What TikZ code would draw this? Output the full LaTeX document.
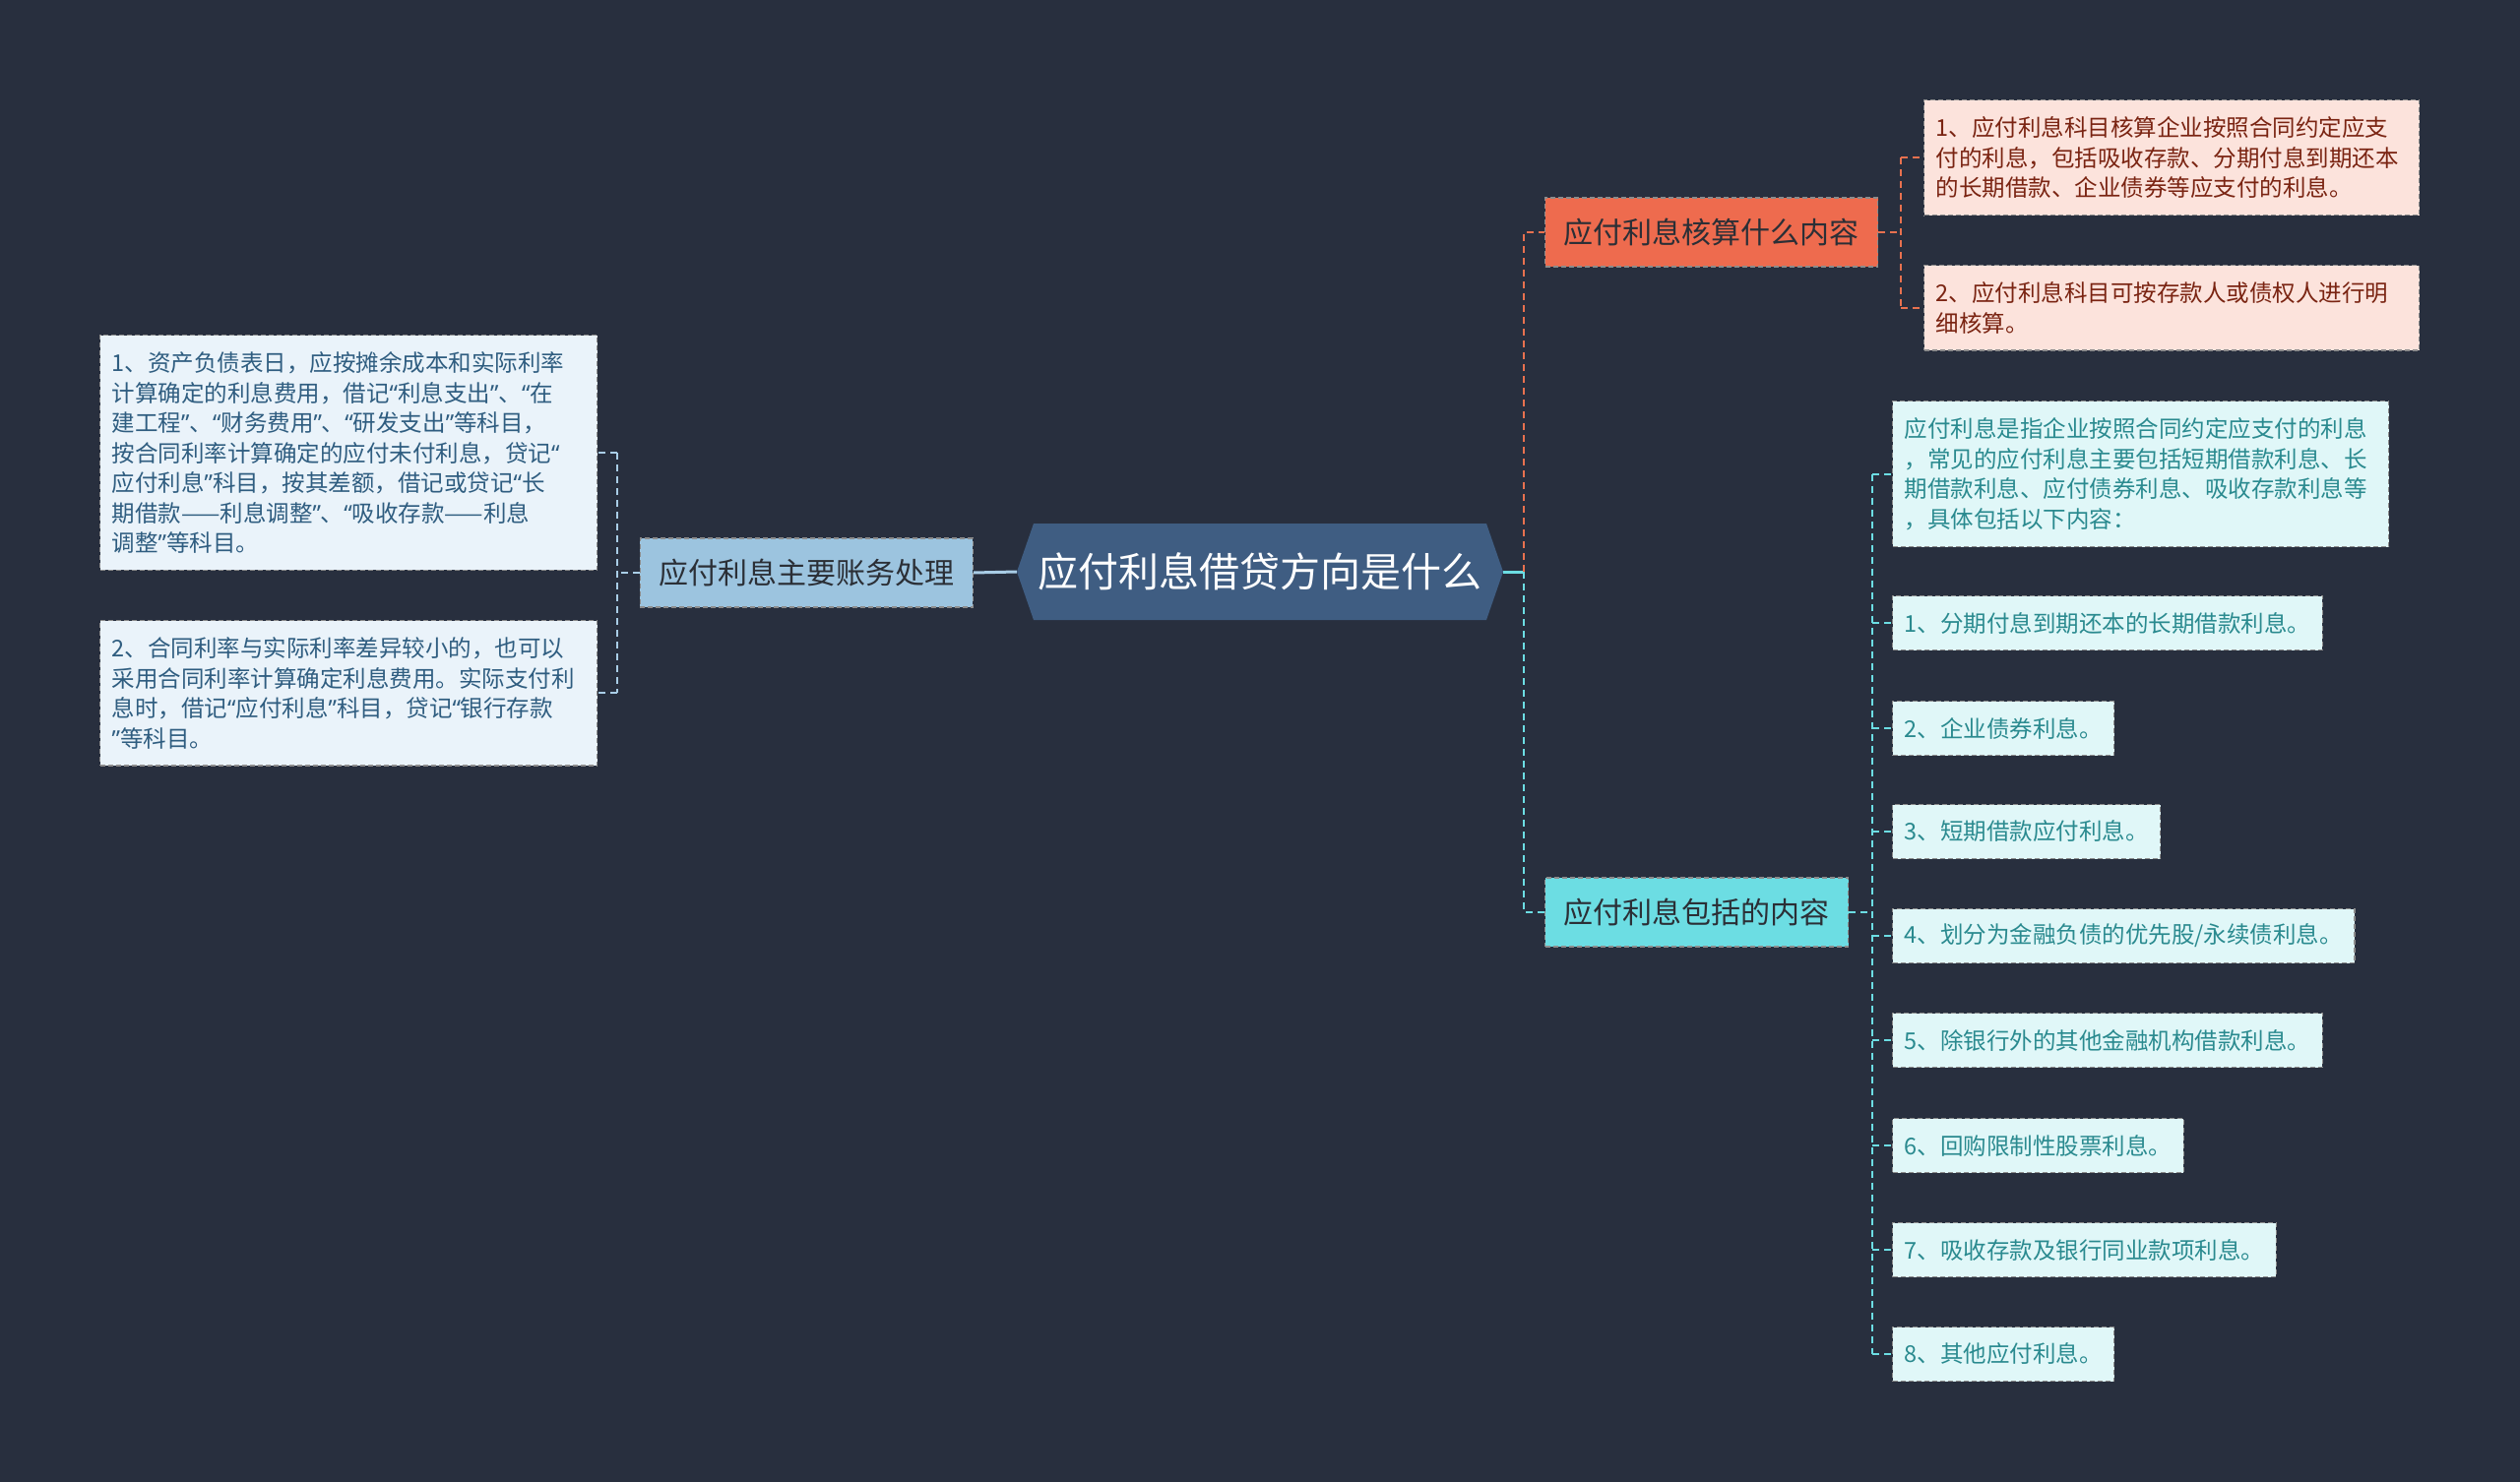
\documentclass[tikz,border=0pt]{standalone}
\usepackage{fontspec}
\setmainfont{Noto Sans CJK SC}
\newfontfamily\myqf{Noto Sans}
\newcommand\myoq{{\myqf “}}
\newcommand\mycq{{\myqf ”}}
\usetikzlibrary{calc}
\definecolor{bg}{HTML}{282F3E}
\definecolor{ctrfill}{HTML}{3F5D82}
\definecolor{lbfill}{HTML}{9CC4DF}
\definecolor{llfill}{HTML}{EAF3FA}
\definecolor{lltext}{HTML}{2F5D80}
\definecolor{lline}{HTML}{A9CDE6}
\definecolor{obfill}{HTML}{EE6B4E}
\definecolor{olfill}{HTML}{FCE3DC}
\definecolor{oltext}{HTML}{7A2412}
\definecolor{oline}{HTML}{E8714F}
\definecolor{cbfill}{HTML}{6CDDE3}
\definecolor{clfill}{HTML}{E0F7F8}
\definecolor{cltext}{HTML}{2A8A8F}
\definecolor{cline}{HTML}{6CDDE3}
\definecolor{btext}{HTML}{2B2F36}
\begin{document}
\begin{tikzpicture}[x=1pt,y=-1pt,
  boxborder/.style={draw=black!45, line width=1.3pt, dash pattern=on 5pt off 3pt},
  branch/.style={boxborder, rectangle, minimum height=70pt, inner xsep=19pt, inner ysep=0pt,
    text=btext, font=\fontsize{30}{36}\selectfont},
  leaf/.style={boxborder, rectangle, inner xsep=12pt, inner ysep=17pt, minimum height=55pt,
    align=left, font=\fontsize{23.5}{30.5}\selectfont},
  single/.style={inner ysep=6pt, minimum height=55pt},
  lleaf/.style={leaf, fill=llfill, text=lltext},
  oleaf/.style={leaf, fill=olfill, text=oltext},
  cleaf/.style={leaf, fill=clfill, text=cltext},
  conn/.style={line width=2pt, dash pattern=on 7pt off 5pt},
]
\fill[bg] (0,0) rectangle (2560,1506);
\useasboundingbox (0,0) rectangle (2560,1506);

% center
\node[rectangle, minimum width=494pt, minimum height=98pt, inner sep=0pt, text=white,
  font=\fontsize{41}{49}\selectfont,
  path picture={\fill[ctrfill] (path picture bounding box.west)
     -- ([xshift=17pt]path picture bounding box.north west)
     -- ([xshift=-17pt]path picture bounding box.north east)
     -- (path picture bounding box.east)
     -- ([xshift=-17pt]path picture bounding box.south east)
     -- ([xshift=17pt]path picture bounding box.south west) -- cycle;}]
  (ctr) at (1280,581) {应付利息借贷方向是什么};

% branches
\node[branch, fill=lbfill, anchor=east] (lb) at (989,582) {应付利息主要账务处理};
\node[branch, fill=obfill, anchor=west] (ob) at (1569,236) {应付利息核算什么内容};
\node[branch, fill=cbfill, anchor=west] (cb) at (1569,927) {应付利息包括的内容};

% left leaves
\node[lleaf, text width=481pt, anchor=north west] (l1) at (101,340) {1、资产负债表日，应按摊余成本和实际利率\\计算确定的利息费用，借记\myoq 利息支出\mycq 、\myoq 在\\建工程\mycq 、\myoq 财务费用\mycq 、\myoq 研发支出\mycq 等科目，\\按合同利率计算确定的应付未付利息，贷记\myoq\\应付利息\mycq 科目，按其差额，借记或贷记\myoq 长\\期借款——利息调整\mycq 、\myoq 吸收存款——利息\\调整\mycq 等科目。};
\node[lleaf, text width=481pt, anchor=north west] (l2) at (101,630) {2、合同利率与实际利率差异较小的，也可以\\采用合同利率计算确定利息费用。实际支付利\\息时，借记\myoq 应付利息\mycq 科目，贷记\myoq 银行存款\\\mycq 等科目。};

% orange leaves
\node[oleaf, text width=479pt, anchor=north west] (o1) at (1954,101) {1、应付利息科目核算企业按照合同约定应支\\付的利息，包括吸收存款、分期付息到期还本\\的长期借款、企业债券等应支付的利息。};
\node[oleaf, text width=479pt, anchor=north west] (o2) at (1954,269) {2、应付利息科目可按存款人或债权人进行明\\细核算。};

% cyan leaves
\node[cleaf, text width=480pt, anchor=north west] (c0) at (1922,407) {应付利息是指企业按照合同约定应支付的利息\\，常见的应付利息主要包括短期借款利息、长\\期借款利息、应付债券利息、吸收存款利息等\\，具体包括以下内容：};
\node[cleaf, single, anchor=west] (c1) at (1922,633) {1、分期付息到期还本的长期借款利息。};
\node[cleaf, single, anchor=west] (c2) at (1922,740) {2、企业债券利息。};
\node[cleaf, single, anchor=west] (c3) at (1922,845) {3、短期借款应付利息。};
\node[cleaf, single, anchor=west] (c4) at (1922,951) {4、划分为金融负债的优先股/永续债利息。};
\node[cleaf, single, anchor=west] (c5) at (1922,1057) {5、除银行外的其他金融机构借款利息。};
\node[cleaf, single, anchor=west] (c6) at (1922,1164) {6、回购限制性股票利息。};
\node[cleaf, single, anchor=west] (c7) at (1922,1270) {7、吸收存款及银行同业款项利息。};
\node[cleaf, single, anchor=west] (c8) at (1922,1376) {8、其他应付利息。};

% buses
\coordinate (lbus) at (627,582);
\coordinate (rbus) at (1548,581);
\coordinate (obus) at (1931,236);
\coordinate (cbus) at (1902,927);

% center connectors
\draw[lline, line width=3pt] (ctr.west) -- (lb.east);
\draw[cline, line width=3pt] (ctr.east) -- (rbus);
\draw[oline, conn] (rbus) -- (rbus |- ob.west) -- (ob.west);
\draw[cline, conn] (rbus) -- (rbus |- cb.west) -- (cb.west);

% left connectors
\draw[lline, conn] (lb.west) -- (lbus);
\draw[lline, conn] (lbus |- l1.east) -- (lbus |- l2.east);
\draw[lline, conn] (lbus |- l1.east) -- (l1.east);
\draw[lline, conn] (lbus |- l2.east) -- (l2.east);

% orange connectors
\draw[oline, conn] (ob.east) -- (obus);
\draw[oline, conn] (obus |- o1.east) -- (obus |- o2.east);
\draw[oline, conn] (obus |- o1.east) -- (o1.west);
\draw[oline, conn] (obus |- o2.east) -- (o2.west);

% cyan connectors
\draw[cline, conn] (cb.east) -- (cbus);
\draw[cline, conn] (cbus |- c0.west) -- (cbus |- c8.west);
\foreach \n in {c0,c1,c2,c3,c4,c5,c6,c7,c8}{
  \draw[cline, conn] (cbus |- \n.west) -- (\n.west);
}
\end{tikzpicture}
\end{document}
